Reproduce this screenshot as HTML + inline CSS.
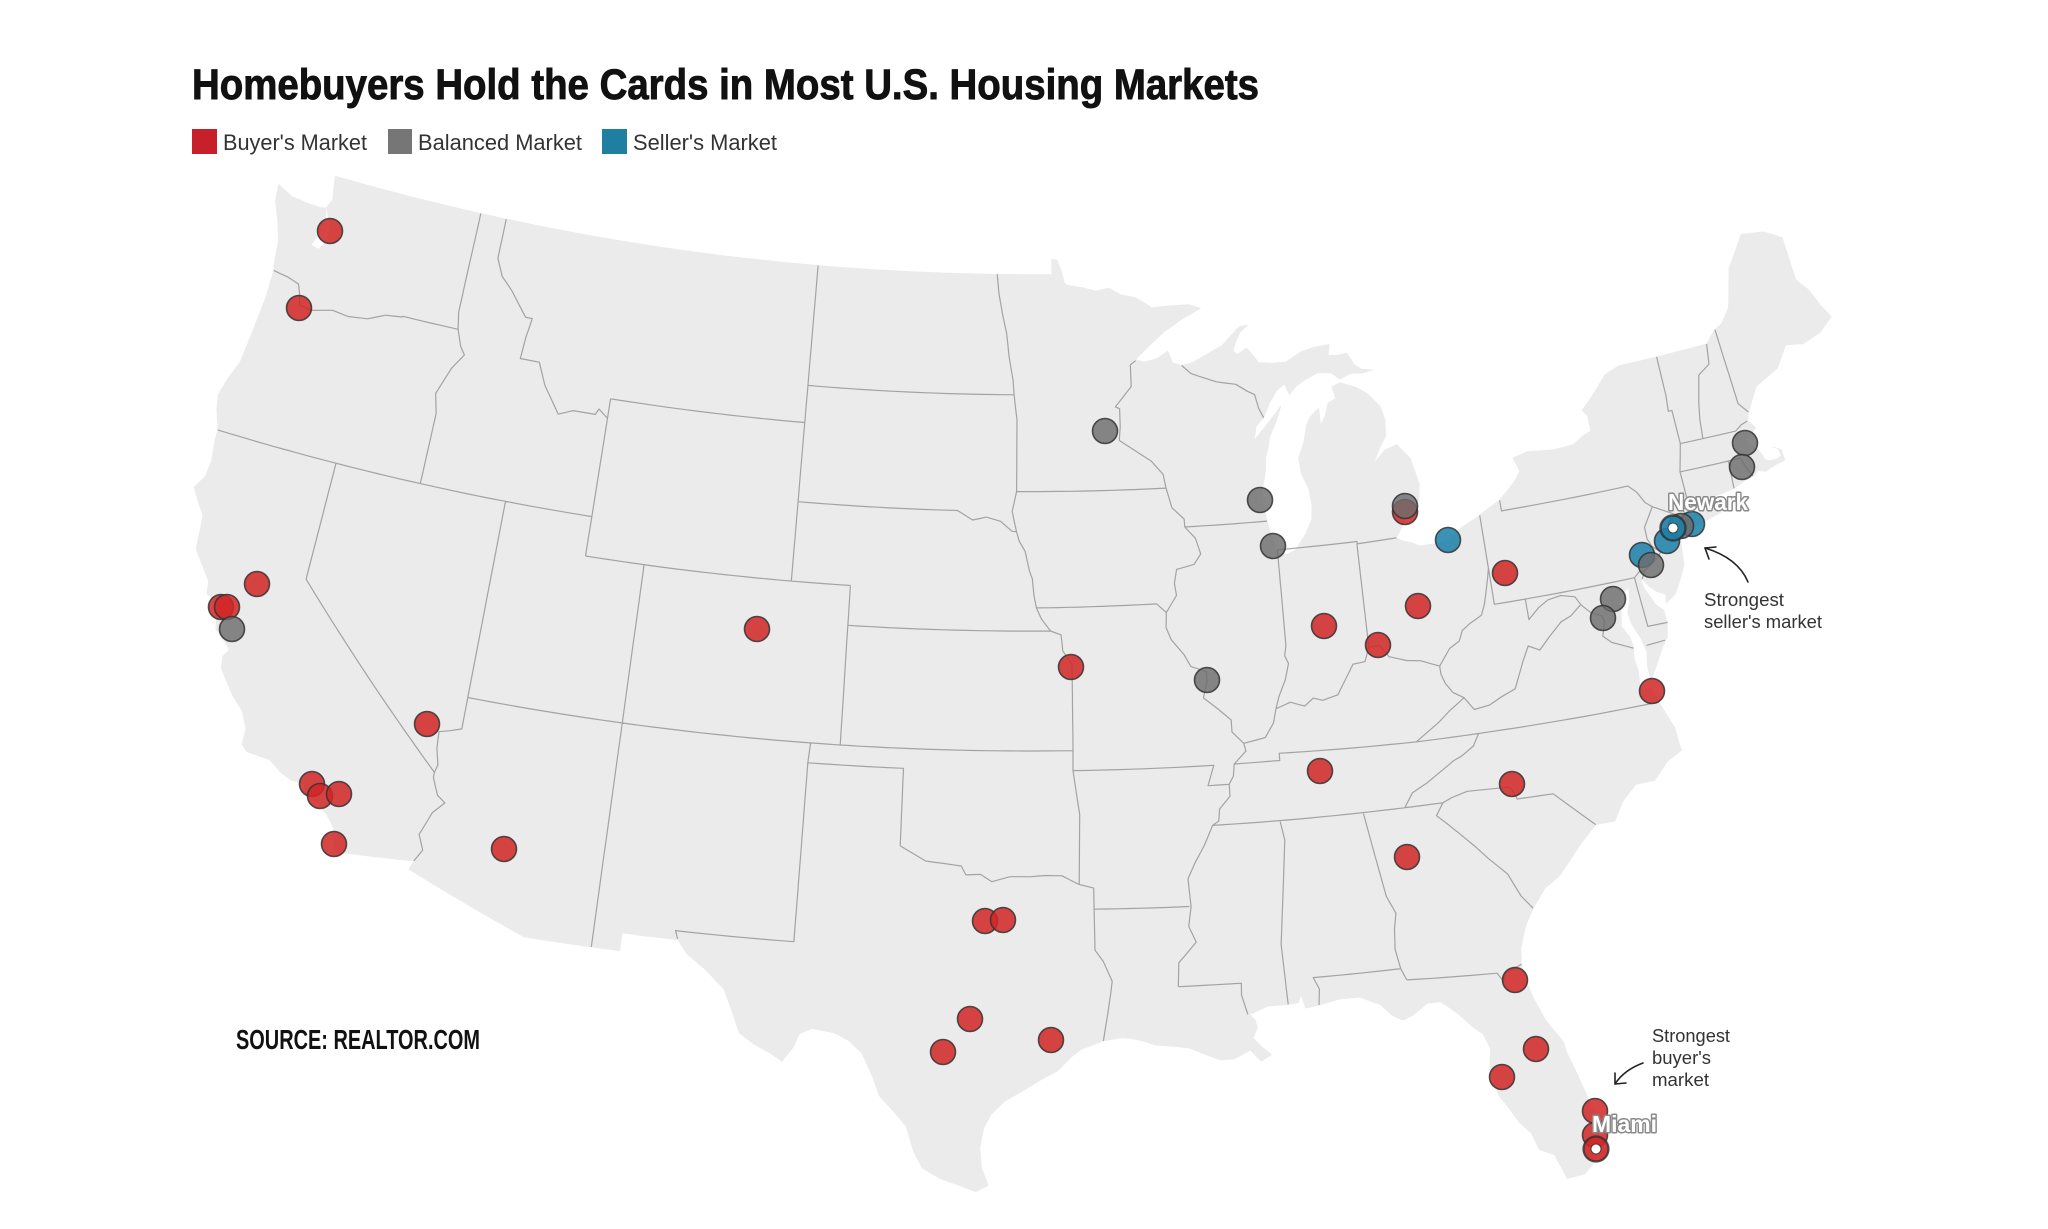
<!DOCTYPE html>
<html><head><meta charset="utf-8"><style>
html,body{margin:0;padding:0;background:#fff;}
svg{display:block;}
</style></head><body>
<svg id="s" width="2048" height="1229" viewBox="0 0 2048 1229" xmlns="http://www.w3.org/2000/svg">
<rect width="2048" height="1229" fill="#fff"/>
<g id="map"></g>
<text x="192" y="99" font-family="Liberation Sans, Arial, sans-serif" font-weight="bold" font-size="43" fill="#111" stroke="#111" stroke-width="0.9" textLength="1067" lengthAdjust="spacingAndGlyphs">Homebuyers Hold the Cards in Most U.S. Housing Markets</text>
<rect x="192" y="129" width="25" height="25" fill="#c8202a"/>
<text x="223" y="150" font-family="Liberation Sans, Arial, sans-serif" font-size="22" fill="#333" textLength="144" lengthAdjust="spacingAndGlyphs">Buyer's Market</text>
<rect x="388" y="129" width="24" height="25" fill="#767676"/>
<text x="418" y="150" font-family="Liberation Sans, Arial, sans-serif" font-size="22" fill="#333" textLength="164" lengthAdjust="spacingAndGlyphs">Balanced Market</text>
<rect x="602" y="129" width="25" height="25" fill="#1f7fa0"/>
<text x="633" y="150" font-family="Liberation Sans, Arial, sans-serif" font-size="22" fill="#333" textLength="144" lengthAdjust="spacingAndGlyphs">Seller's Market</text>

<text x="236" y="1049" font-family="Liberation Sans Narrow, Liberation Sans, Arial, sans-serif" font-weight="bold" font-size="28" fill="#111" textLength="244" lengthAdjust="spacingAndGlyphs">SOURCE: REALTOR.COM</text>

<g id="dots" stroke="#333" stroke-width="1.6" stroke-opacity="0.85"></g>

<g font-family="Liberation Sans, Arial, sans-serif" font-size="18" fill="#333">
<text x="1704" y="606" textLength="80" lengthAdjust="spacingAndGlyphs">Strongest</text>
<text x="1704" y="628" textLength="118" lengthAdjust="spacingAndGlyphs">seller's market</text>
<text x="1652" y="1042" textLength="78" lengthAdjust="spacingAndGlyphs">Strongest</text>
<text x="1652" y="1064" textLength="59" lengthAdjust="spacingAndGlyphs">buyer's</text>
<text x="1652" y="1086" textLength="57" lengthAdjust="spacingAndGlyphs">market</text>
</g>
<g fill="none" stroke="#222" stroke-width="1.6" stroke-linecap="round">
<path d="M1748,582 Q1738,558 1705,548"/>
<path d="M1705,548 L1709,559 M1705,548 L1716,547"/>
<path d="M1643,1063 Q1624,1070 1615,1084"/>
<path d="M1615,1084 L1615,1073 M1615,1084 L1626,1083"/>
</g>
<g font-family="Liberation Sans, Arial, sans-serif" font-size="23" font-weight="bold" fill="#fff" stroke="#8a8a8a" stroke-width="3" paint-order="stroke" stroke-linejoin="round">
<text x="1668" y="510" textLength="80" lengthAdjust="spacingAndGlyphs">Newark</text>
<text x="1592" y="1132" textLength="65" lengthAdjust="spacingAndGlyphs">Miami</text>
</g>
</svg>
<script>
(function(){
var D=Math.PI/180,n=0.6028375,C=1.351221;
function P(lon,lat){var r=Math.sqrt(C-2*n*Math.sin(lat*D))/n,t=n*(lon+96)*D;return [1029.5+2267.7*r*Math.sin(t),-2224.4+2267.7*r*Math.cos(t)];}
function pts(a){var o=[];for(var i=0;i<a.length;i+=2){if(i>0){var x0=a[i-2],y0=a[i-1],x1=a[i],y1=a[i+1];var st=Math.ceil(Math.max(Math.abs(x1-x0),Math.abs(y1-y0))/0.4);for(var k=1;k<st;k++){o.push(P(x0+(x1-x0)*k/st,y0+(y1-y0)*k/st));}}o.push(P(a[i],a[i+1]));}return o;}
function path(a,close){var p=pts(a);return 'M'+p.map(function(q){return q[0].toFixed(1)+','+q[1].toFixed(1);}).join('L')+(close?'Z':'');}
var US=[-124.72,48.38,-124.1,48.18,-123.5,48.14,-123.0,48.12,-122.75,48.15,-122.6,48.4,-122.7,48.75,-122.75,49.0,
-95.15,49.0,-95.15,49.38,-94.95,49.37,-94.8,49.1,-94.68,48.78,-94.6,48.72,-94.0,48.65,-93.5,48.55,-93.0,48.62,-92.6,48.45,-92.0,48.35,-91.4,48.07,-90.8,48.1,-90.0,48.1,-89.6,47.99,
-90.3,47.75,-91.0,47.45,-91.6,47.1,-92.1,46.78,
-91.8,46.7,-91.3,46.78,-90.9,46.95,-90.75,46.65,-90.42,46.57,
-90.0,46.63,-89.4,46.84,-88.9,47.0,-88.2,47.45,-87.9,47.47,-88.2,47.3,-88.4,47.05,-88.5,46.85,-88.35,46.75,-88.0,46.9,-87.6,46.5,-87.1,46.45,-86.6,46.45,-86.0,46.68,-85.5,46.75,-84.96,46.77,-85.05,46.5,-84.7,46.48,-84.35,46.5,
-84.15,46.2,-83.9,46.05,-83.5,46.0,-83.9,45.95,-84.3,45.98,-84.73,45.87,
-85.0,46.05,-85.5,46.1,-86.0,45.95,-86.35,45.8,-86.6,45.62,-86.75,45.9,-87.05,45.75,-87.35,45.45,-87.6,45.1,-87.9,44.9,-88.0,44.55,-87.6,44.85,-87.2,45.15,-86.95,45.35,-87.15,45.0,-87.45,44.6,-87.55,44.3,-87.65,44.1,-87.7,43.75,-87.9,43.2,-87.9,43.04,-87.8,42.5,-87.65,42.05,-87.6,41.85,-87.5,41.65,-87.2,41.62,-86.9,41.72,-86.5,42.1,-86.25,42.45,-86.2,42.8,-86.25,43.2,-86.45,43.6,-86.5,44.0,-86.25,44.4,-86.1,44.8,-85.95,45.0,-85.6,45.2,-85.6,44.77,-85.4,45.0,-85.25,45.3,-84.95,45.4,-85.05,45.7,-84.73,45.78,
-84.2,45.62,-83.8,45.42,-83.4,45.05,-83.3,44.7,-83.35,44.3,-83.6,44.05,-83.9,43.65,-83.45,43.95,-83.0,44.05,-82.6,43.65,-82.42,43.0,-82.5,42.6,-82.7,42.5,-82.95,42.35,-83.15,42.05,-83.45,41.73,
-83.3,41.65,-82.95,41.55,-82.7,41.45,-82.2,41.45,-81.7,41.5,-81.2,41.75,-80.52,41.98,-80.1,42.15,-79.76,42.27,-79.1,42.7,-78.9,42.9,-79.05,43.26,-78.5,43.35,-77.6,43.27,-76.9,43.3,-76.5,43.47,-76.2,43.55,-76.2,43.95,-76.35,44.1,-75.9,44.4,-75.3,44.85,-74.75,45.0,-73.35,45.0,-71.5,45.01,-71.1,45.3,-70.8,45.4,-70.4,45.75,-70.25,46.1,-70.0,46.7,-69.22,47.45,-68.4,47.35,-67.8,47.07,-67.78,45.95,-67.43,45.6,-67.2,45.15,-66.95,44.8,
-67.5,44.5,-68.2,44.35,-68.8,44.45,-69.3,43.95,-70.2,43.65,-70.7,43.08,-70.8,42.87,-70.6,42.65,-70.95,42.45,-71.05,42.33,-70.7,42.1,-70.6,41.85,-70.5,41.77,-70.2,41.75,-70.0,41.8,-70.05,42.0,-70.2,42.07,-69.95,41.95,-69.93,41.67,-70.3,41.62,-70.65,41.53,-70.9,41.6,-71.1,41.5,-71.4,41.45,-71.85,41.32,-72.3,41.27,-72.9,41.25,-73.4,41.1,-73.7,40.98,-73.75,40.88,-73.4,40.92,-72.6,40.98,-72.0,41.1,-71.86,41.07,-72.5,40.82,-73.3,40.65,-73.95,40.57,-74.1,40.6,-74.0,40.45,-74.05,40.1,-74.1,39.75,-74.35,39.4,-74.6,39.1,-74.95,38.93,-74.9,39.15,-75.15,39.25,-75.4,39.45,-75.55,39.65,-75.6,39.6,-75.55,39.4,-75.4,39.15,-75.3,38.95,-75.08,38.78,-75.05,38.45,-75.15,38.1,-75.4,37.85,-75.7,37.45,-75.97,37.12,-75.98,37.5,-75.9,37.85,-76.0,38.2,-76.2,38.6,-76.25,38.9,-76.1,39.2,-76.05,39.52,-76.35,39.35,-76.5,39.2,-76.45,38.95,-76.55,38.6,-76.35,38.3,-76.3,38.05,-76.35,37.75,-76.3,37.4,-76.35,37.05,-76.3,36.95,-76.0,36.92,-75.87,36.55,-75.55,35.85,-75.5,35.25,-76.0,35.05,-76.5,34.65,-77.1,34.65,-77.6,34.3,-77.95,33.85,-78.55,33.85,-79.1,33.45,-79.9,32.75,-80.4,32.5,-80.85,32.05,-81.15,31.65,-81.4,31.1,-81.45,30.7,-81.4,30.3,-81.25,29.8,-81.0,29.2,-80.6,28.6,-80.55,28.3,-80.38,27.8,-80.2,27.2,-80.05,26.7,-80.1,26.1,-80.15,25.75,-80.35,25.4,-80.6,25.2,-81.1,25.15,-81.35,25.8,-81.75,26.0,-81.9,26.45,-82.15,26.7,-82.45,27.2,-82.65,27.5,-82.75,27.9,-82.8,28.2,-82.7,28.7,-82.85,29.1,-83.1,29.3,-83.5,29.7,-83.95,30.05,-84.35,30.05,-84.8,29.8,-85.1,29.7,-85.4,29.85,-85.7,30.15,-86.3,30.4,-86.9,30.4,-87.5,30.3,-87.9,30.25,-88.0,30.6,-88.1,30.4,-88.4,30.38,-89.0,30.38,-89.55,30.2,-89.4,30.05,-89.35,29.85,-89.5,29.6,-89.25,29.35,-89.0,29.15,-89.3,29.0,-89.6,29.3,-90.1,29.1,-90.5,29.1,-91.0,29.3,-91.4,29.45,-91.8,29.5,-92.3,29.55,-92.9,29.72,-93.3,29.77,-93.85,29.7,-94.5,29.5,-94.8,29.3,-95.2,28.95,-95.65,28.75,-96.2,28.45,-96.7,28.2,-97.1,27.85,-97.3,27.5,-97.4,27.0,-97.35,26.5,-97.15,26.05,
-97.5,25.88,-98.0,26.05,-98.5,26.2,-99.0,26.45,-99.25,26.85,-99.5,27.5,-99.85,27.85,-100.3,28.25,-100.5,28.7,-100.85,29.3,-101.25,29.6,-101.7,29.78,-102.35,29.85,-102.7,29.7,-102.85,29.35,-103.15,28.97,-103.5,29.15,-104.0,29.35,-104.45,29.6,-104.7,30.1,-105.0,30.65,-105.6,31.1,-106.2,31.45,-106.53,31.78,-108.2,31.78,-108.2,31.33,-111.07,31.33,-114.81,32.49,-114.72,32.72,-117.12,32.53,
-117.25,32.9,-117.3,33.1,-117.6,33.4,-118.0,33.65,-118.4,33.75,-118.5,34.03,-118.9,34.03,-119.25,34.15,-119.7,34.4,-120.45,34.45,-120.65,34.6,-120.65,35.0,-120.9,35.4,-121.3,35.7,-121.9,36.3,-121.95,36.6,-121.8,36.8,-122.0,36.95,-122.4,37.2,-122.5,37.55,-122.5,37.8,-122.75,37.9,-123.0,38.0,-123.05,38.3,-123.5,38.75,-123.75,39.0,-123.8,39.5,-123.85,39.85,-124.1,40.1,-124.4,40.45,-124.15,40.8,-124.1,41.2,-124.2,41.75,-124.2,42.0,-124.45,42.5,-124.55,42.84,-124.4,43.3,-124.15,43.8,-124.05,44.6,-123.95,45.5,-123.95,46.2,-124.05,46.6,-124.1,47.0,-124.35,47.5,-124.65,47.95];
var PUGET=[-122.75,48.15,-122.45,47.75,-122.4,47.35,-122.6,47.1,-122.9,47.15,-122.7,47.5,-122.65,47.9];
var B=[
[-123.95,46.25,-123.4,46.2,-122.95,46.1,-122.8,45.85,-122.7,45.6,-122.25,45.55,-121.5,45.7,-120.9,45.65,-120.2,45.72,-119.6,45.92,-119.0,45.98,-118.98,46.0,-116.92,46.0],
[-116.92,46.0,-117.04,46.42,-117.04,49.0],
[-116.92,46.0,-116.7,45.6,-116.5,45.4,-116.85,45.0,-117.2,44.3,-117.03,43.8,-117.03,42.0],
[-124.21,42.0,-111.05,42.0],
[-120.0,42.0,-120.0,39.0,-114.63,35.0,-114.63,34.87,-114.4,34.45,-114.13,34.3,-114.45,34.0,-114.72,33.4,-114.52,33.03,-114.72,32.72],
[-114.63,35.0,-114.57,35.2,-114.7,35.6,-114.74,36.02,-114.4,36.1,-114.05,36.2,-114.05,37.0],
[-114.05,37.0,-114.05,42.0],
[-114.05,37.0,-94.62,37.0],
[-109.05,31.33,-109.05,41.0],
[-111.05,41.0,-111.05,45.0],
[-111.05,44.5,-111.4,44.7,-111.5,44.55,-112.3,44.55,-112.8,44.4,-113.0,44.6,-113.45,45.05,-113.8,45.6,-114.5,45.6,-114.45,46.15,-114.35,46.65,-114.6,46.65,-115.3,47.25,-115.75,47.55,-116.05,47.98,-116.05,49.0],
[-111.05,45.0,-104.05,45.0],
[-111.05,41.0,-102.05,41.0],
[-104.05,41.0,-104.05,49.0],
[-102.05,41.0,-102.05,37.0],
[-103.0,37.0,-103.04,36.5,-103.06,32.0,-106.62,32.0,-106.53,31.8],
[-103.04,36.5,-100.0,36.5,-100.0,34.56],
[-100.0,34.56,-99.6,34.38,-99.2,34.2,-98.6,34.15,-98.1,34.1,-97.95,33.88,-97.5,33.9,-97.15,33.72,-96.6,33.85,-96.0,33.85,-95.5,33.88,-95.0,33.87,-94.5,33.65,-94.04,33.55],
[-94.04,33.55,-94.04,31.99,-93.8,31.7,-93.55,31.2,-93.6,30.9,-93.7,30.4,-93.85,29.7],
[-94.04,33.02,-91.15,33.0],
[-94.62,36.5,-94.43,35.4,-94.48,33.64],
[-102.05,40.0,-95.3,40.0],
[-95.3,40.0,-94.95,39.9,-94.9,39.5,-94.6,39.15,-94.61,37.0,-94.62,36.5],
[-94.62,36.5,-90.15,36.5,-90.37,36.0,-89.7,36.0],
[-104.05,43.0,-98.5,43.0,-97.97,42.77,-97.5,42.85,-97.0,42.75,-96.6,42.5,-96.45,42.49],
[-96.45,42.49,-96.35,42.25,-96.15,42.0,-96.0,41.5,-95.9,41.3,-95.85,40.9,-95.77,40.58,-95.6,40.3,-95.3,40.0],
[-95.77,40.58,-91.73,40.61,-91.42,40.38],
[-104.05,45.94,-96.56,45.94],
[-96.56,45.94,-96.6,46.3,-96.75,46.9,-96.85,47.5,-97.0,47.95,-97.15,48.5,-97.23,49.0],
[-96.56,45.94,-96.45,45.3,-96.45,43.5,-96.6,43.0,-96.45,42.49],
[-96.45,43.5,-91.22,43.5],
[-91.22,43.5,-91.3,43.85,-91.7,44.2,-92.3,44.5,-92.8,44.75,-92.75,45.1,-92.75,45.55,-92.9,45.6,-92.3,46.1,-92.3,46.65,-92.1,46.75],
[-91.22,43.5,-91.05,43.0,-90.65,42.7,-90.64,42.5,-90.3,42.2,-90.15,41.8,-90.4,41.55,-91.0,41.45,-91.1,41.1,-91.05,40.8,-91.42,40.38],
[-91.42,40.38,-91.45,40.0,-91.3,39.7,-90.9,39.3,-90.7,39.0,-90.2,38.85,-90.2,38.6,-90.35,38.2,-89.9,37.9,-89.5,37.6,-89.5,37.3,-89.15,37.0],
[-89.15,37.0,-89.1,36.8,-89.5,36.5,-89.55,36.2,-89.7,36.0],
[-89.7,36.0,-89.7,35.7,-90.05,35.4,-90.1,35.1,-90.3,35.0,-90.6,34.5,-90.9,34.1,-91.15,33.7,-91.1,33.0,-91.2,32.5,-91.0,32.1,-91.55,31.6,-91.6,31.0],
[-91.6,31.0,-89.73,31.0,-89.75,30.7,-89.6,30.2],
[-90.64,42.5,-87.8,42.5],
[-87.6,45.1,-87.75,45.35,-87.85,45.7,-88.1,45.8,-88.5,46.0,-89.2,46.1,-90.1,46.35,-90.42,46.57],
[-87.53,41.76,-87.53,39.35,-87.6,39.1,-87.5,38.9,-87.65,38.5,-87.9,38.1,-88.03,37.8],
[-88.03,37.8,-88.15,37.45,-88.45,37.1,-89.15,37.0],
[-84.82,39.1,-85.0,38.75,-85.4,38.72,-85.75,38.3,-86.0,38.0,-86.5,37.9,-86.8,37.98,-87.1,37.8,-87.55,37.93,-88.03,37.8],
[-87.53,41.76,-84.8,41.76,-84.8,41.7,-83.45,41.73],
[-84.81,41.7,-84.82,39.1],
[-84.82,39.1,-84.45,39.1,-84.2,38.8,-83.65,38.65,-83.2,38.6,-82.6,38.4],
[-82.6,38.4,-82.2,38.8,-81.85,38.95,-81.7,39.2,-81.4,39.35,-81.0,39.5,-80.85,39.75,-80.75,40.0,-80.6,40.4,-80.52,40.64],
[-80.52,40.64,-80.52,41.98],
[-79.76,42.27,-79.76,42.0,-75.35,42.0,-75.1,41.8,-74.9,41.5,-74.69,41.36],
[-74.69,41.36,-75.1,40.9,-75.1,40.6,-75.0,40.4,-74.75,40.2,-75.05,40.0,-75.4,39.85,-75.55,39.65],
[-75.4,39.83,-75.6,39.84,-75.79,39.72,-80.52,39.72,-80.52,40.64],
[-75.79,39.72,-75.7,38.46,-75.05,38.45],
[-75.87,38.0,-75.25,38.03],
[-79.48,39.72,-79.48,39.2,-79.1,39.45,-78.75,39.6,-78.3,39.65,-77.85,39.55,-77.7,39.32],
[-77.7,39.32,-77.45,39.1,-77.1,38.95,-77.05,38.8,-77.2,38.45,-76.95,38.25,-76.3,38.0],
[-77.73,39.32,-78.1,39.1,-78.45,39.0,-78.9,38.7,-79.3,38.4,-79.65,38.55,-79.9,38.2,-80.3,37.55,-80.8,37.4,-81.2,37.25,-81.7,37.2,-81.97,37.53],
[-81.97,37.53,-82.3,37.7,-82.5,37.95,-82.6,38.2,-82.6,38.4],
[-81.97,37.53,-82.5,37.25,-82.9,37.0,-83.68,36.6],
[-75.87,36.55,-81.68,36.59,-83.68,36.6,-88.05,36.68,-88.05,36.5,-89.5,36.5],
[-81.68,36.59,-81.9,36.3,-82.3,36.1,-82.6,36.0,-83.0,35.8,-83.5,35.55,-84.0,35.35,-84.3,35.0],
[-83.1,35.0,-90.3,35.0],
[-78.55,33.85,-79.67,34.8,-80.8,34.82,-80.93,35.1,-81.05,35.15,-82.3,35.2,-82.8,35.1,-83.1,35.0],
[-80.85,32.05,-81.15,32.4,-81.45,33.0,-81.95,33.45,-82.3,33.8,-82.75,34.2,-83.1,34.5,-83.35,34.7,-83.1,35.0],
[-81.45,30.7,-81.95,30.55,-82.05,30.35,-82.2,30.57,-84.86,30.7],
[-84.86,30.7,-85.0,31.0,-85.1,31.5,-85.05,32.0,-84.95,32.4,-85.18,32.85,-85.6,35.0],
[-85.0,31.0,-87.6,31.0,-87.45,30.7,-87.5,30.3],
[-88.2,35.0,-88.1,34.5,-88.47,31.9,-88.4,30.38],
[-74.69,41.36,-73.9,41.0],
[-73.65,41.0,-73.72,41.1,-73.48,41.2,-73.5,42.05,-73.26,42.74],
[-73.26,42.74,-73.27,43.6,-73.4,43.6,-73.35,44.0,-73.35,45.0],
[-72.46,42.73,-72.4,43.2,-72.3,43.6,-72.05,44.3,-71.6,44.5,-71.5,45.01],
[-73.26,42.74,-71.3,42.7,-71.05,42.82,-70.82,42.87],
[-70.7,43.08,-70.97,43.35,-71.0,43.9,-71.08,45.3],
[-73.5,42.05,-71.8,42.02,-71.38,42.02,-71.3,41.8,-71.12,41.5],
[-71.8,42.02,-71.85,41.32]
];
var NS='http://www.w3.org/2000/svg';
var g=document.getElementById('map');
function add(par,tag,attrs){var e=document.createElementNS(NS,tag);for(var k in attrs)e.setAttribute(k,attrs[k]);par.appendChild(e);return e;}
add(g,'path',{d:path(US,true),fill:'#ebebeb',stroke:'#ebebeb','stroke-width':'0.8','stroke-linejoin':'round'});
add(g,'path',{d:path(PUGET,true),fill:'#fff'});
var bd='';for(var i=0;i<B.length;i++)bd+=path(B[i],false);
add(g,'path',{d:bd,fill:'none',stroke:'#a3a3a3','stroke-width':'1.2','stroke-linejoin':'round'});
var dots=document.getElementById('dots');
var red=[[330,231],[299,308],[257,584],[221,607],[227,607],[427,724],[312,784],[320,796],[339,794],[334,844],[504,849],[757,629],[1071,667],[985,921],[1003,920],[970,1019],[943,1052],[1051,1040],[1320,771],[1407,857],[1512,784],[1652,691],[1515,980],[1536,1049],[1502,1077],[1595,1111],[1595,1135],[1324,626],[1418,606],[1378,645],[1505,573],[1405,512]];
var blue=[[1448,540],[1692,524],[1667,541],[1642,555]];
var gray=[[1105,431],[1260,500],[1273,546],[1405,506],[1207,680],[232,629],[1745,443],[1742,467],[1651,565],[1613,599],[1603,618],[1681,526]];
function dl(arr,fill){arr.forEach(function(p){add(dots,'circle',{cx:p[0],cy:p[1],r:12.5,fill:fill});});}
dl(red,'rgba(210,38,38,0.86)');
dl(blue,'rgba(28,128,168,0.86)');
dl(gray,'rgba(108,108,108,0.82)');
add(dots,'circle',{cx:1596,cy:1149,r:12.5,fill:'rgba(210,38,38,0.9)','stroke-width':'2.2'});
add(dots,'circle',{cx:1596,cy:1149,r:5,fill:'#fff','stroke-width':'1'});
add(dots,'circle',{cx:1673,cy:528,r:12.5,fill:'rgba(28,128,168,0.9)','stroke-width':'2.4'});
add(dots,'circle',{cx:1673,cy:528,r:5,fill:'#fff','stroke-width':'1'});
})();
</script>
</body></html>
